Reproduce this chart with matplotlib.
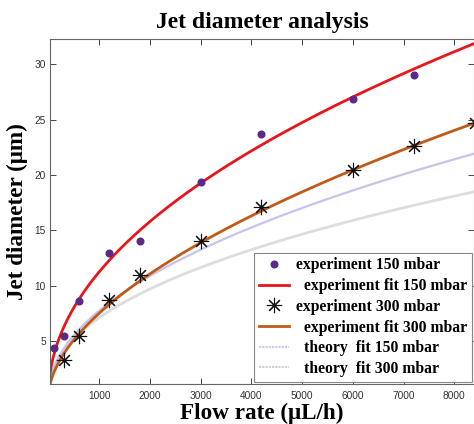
import numpy as np
import matplotlib
matplotlib.use("Agg")
import matplotlib.pyplot as plt
from matplotlib.lines import Line2D

# Measured jet diameters (um) against flow rate (uL/h)
flow_150 = [100, 300, 600, 1200, 1800, 3000, 4200, 6000, 7200]
diam_150 = [4.4, 5.45, 8.65, 12.95, 14.0, 19.4, 23.7, 26.9, 29.0]

flow_300 = [300, 600, 1200, 1800, 3000, 4200, 6000, 7200, 8400]
diam_300 = [3.3, 5.45, 8.7, 10.95, 14.05, 17.15, 20.45, 22.65, 24.7]

# Power-law fits D = a * Q**b
fit_exp_150 = (0.381, 0.49)
fit_exp_300 = (0.1567, 0.56)
fit_theory_150 = (0.262, 0.49)
fit_theory_300 = (0.317, 0.45)

x_ticks = [1000, 2000, 3000, 4000, 5000, 6000, 7000, 8000]
y_ticks = [5, 10, 15, 20, 25, 30]

SERIF = ["Liberation Serif", "DejaVu Serif"]
SANS = ["Liberation Sans", "DejaVu Sans"]

c_purple = "#5A2A86"
c_red = "#E8161C"
c_orange = "#C05A18"
c_blue = "#C6C4EC"
c_gray = "#DDDDDD"

fig = plt.figure(figsize=(4.74, 4.24), dpi=100)
ax = fig.add_axes([50 / 474, 1 - 384 / 424, 424 / 474, (384 - 39) / 424])

q = np.linspace(30, 8500, 400)


def power(params, x):
    a, b = params
    return a * x ** b


ax.plot(q, power(fit_theory_300, q), color=c_gray, lw=2.0, zorder=1)
ax.plot(q, power(fit_theory_150, q), color=c_blue, lw=1.6, zorder=1)
ax.plot(q, power(fit_exp_300, q), color=c_orange, lw=2.0, zorder=2)
ax.plot(q, power(fit_exp_150, q), color=c_red, lw=2.0, zorder=2)
ax.plot(flow_150, diam_150, ls="none", marker="o", ms=4.8, color=c_purple,
        zorder=3)
ax.plot(flow_300, diam_300, ls="none", marker=(8, 2, 0), ms=11, mew=0.8,
        color="#111111", zorder=3)

ax.set_xlim(30, 8390)
ax.set_ylim(1.1, 32.3)
ax.set_xticks(x_ticks)
ax.set_yticks(y_ticks)
ax.tick_params(direction="in", length=4, width=0.7, colors="#444444",
               labelsize=7.3, top=True, right=True)
ax.tick_params(axis="x", pad=5)
ax.tick_params(axis="y", pad=3)
for lab in ax.get_xticklabels() + ax.get_yticklabels():
    lab.set_family(SANS)
    lab.set_color("#333333")
for sp in ax.spines.values():
    sp.set_color("#666666")
    sp.set_linewidth(0.8)

ax.set_title("Jet diameter analysis", family=SERIF, fontweight="bold",
             fontsize=17, pad=8)
ax.set_xlabel("Flow rate (\u03bcL/h)", family=SERIF, fontweight="bold",
              fontsize=16.7, labelpad=1)
ax.set_ylabel("Jet diameter (\u03bcm)", family=SERIF, fontweight="bold",
              fontsize=16.7, labelpad=5)

handles = [
    Line2D([], [], ls="none", marker="o", ms=4.8, color=c_purple),
    Line2D([], [], color=c_red, lw=2.0),
    Line2D([], [], ls="none", marker=(8, 2, 0), ms=11, mew=0.8,
           color="#111111"),
    Line2D([], [], color=c_orange, lw=2.0),
    Line2D([], [], color=c_blue, lw=1.3, ls=(0, (1.2, 0.6))),
    Line2D([], [], color="#CCCCCC", lw=1.3, ls=(0, (1.2, 0.6))),
]
labels = [
    "experiment 150 mbar",
    "  experiment fit 150 mbar",
    "experiment 300 mbar",
    "  experiment fit 300 mbar",
    "  theory  fit 150 mbar",
    "  theory  fit 300 mbar",
]
leg = ax.legend(handles, labels, loc="lower right",
                bbox_to_anchor=(1.0, 0.0), borderaxespad=0.15,
                prop={"family": SERIF, "weight": "bold", "size": 11.3},
                handlelength=1.9, handletextpad=0.45, labelspacing=0.3,
                fancybox=False, framealpha=1, edgecolor="#888888",
                borderpad=0.3)
leg.get_frame().set_linewidth(0.8)

fig.savefig("out.png", dpi=100)
